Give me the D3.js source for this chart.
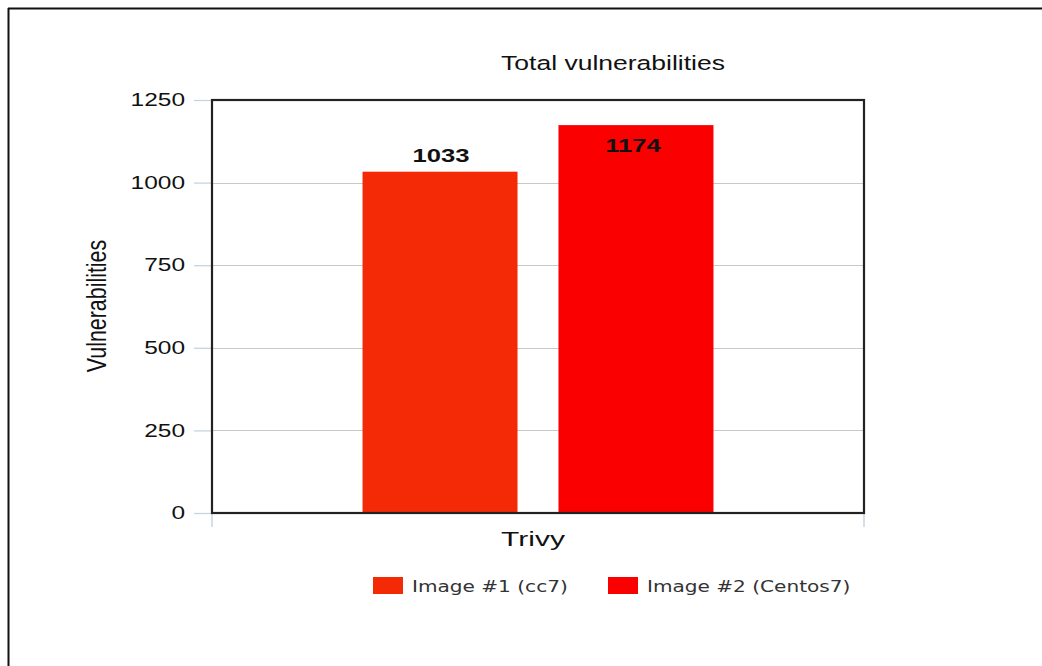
<!DOCTYPE html>
<html lang="en">
<head>
<meta charset="utf-8">
<title>Total vulnerabilities</title>
<script src="https://cdn.jsdelivr.net/npm/d3@7"></script>
<style>
  body { margin: 0; background: #fff; }
</style>
</head>
<body>
<div id="drawing"></div>
<script>
// data
var categories = ['Trivy'];
var seriesNames = ['Image #1 (cc7)', 'Image #2 (Centos7)'];
var seriesValues = [1033, 1174];
var seriesColors = ['#f42a07', '#fa0000'];
var yTicks = [0, 250, 500, 750, 1000, 1250];

var width = 1042, height = 666;
var plot = { left: 212, right: 864, top: 100, bottom: 513 };
var SANS = "'Liberation Sans', Arial, sans-serif";
var STRETCH = 1.37; // the chart text is drawn a little wide

var svg = d3.select('#drawing').append('svg')
  .attr('width', width).attr('height', height);

// outer frame (only top and left are visible)
svg.append('line').attr('x1', 8).attr('y1', 8.5).attr('x2', width).attr('y2', 8.5)
  .attr('stroke', '#111').attr('stroke-width', 2);
svg.append('line').attr('x1', 8.5).attr('y1', 8).attr('x2', 8.5).attr('y2', height)
  .attr('stroke', '#111').attr('stroke-width', 2);

function wideText(parent, x, yPos, str, size, sx, anchor) {
  return parent.append('text')
    .attr('transform', 'translate(' + x + ',' + yPos + ') scale(' + sx + ',1)')
    .attr('text-anchor', anchor || 'middle')
    .attr('font-family', SANS).attr('font-size', size)
    .attr('fill', '#111')
    .text(str);
}

var y = d3.scaleLinear().domain([0, 1250]).range([plot.bottom, plot.top]);
var x0 = d3.scaleBand().domain(categories).range([plot.left, plot.right])
  .paddingInner(0).paddingOuter(0.429);
var x1 = d3.scaleBand().domain(seriesNames).range([0, x0.bandwidth()])
  .paddingInner(0.209).paddingOuter(0);

// grid lines
svg.append('g').selectAll('line').data(yTicks.filter(function(d) { return d > 0 && d < 1250; }))
  .enter().append('line')
  .attr('x1', plot.left).attr('x2', plot.right)
  .attr('y1', function(d) { return Math.round(y(d)) + 0.5; })
  .attr('y2', function(d) { return Math.round(y(d)) + 0.5; })
  .attr('stroke', '#c8c8c8').attr('stroke-width', 1.2);

// y axis
var yAxis = d3.axisLeft(y).tickValues(yTicks).tickFormat(d3.format('d')).tickSize(18).tickPadding(9);
var gy = svg.append('g').attr('transform', 'translate(' + plot.left + ',0)').call(yAxis);
gy.select('.domain').remove();
gy.selectAll('.tick line').attr('stroke', '#c6d4e0').attr('stroke-width', 1.3);
gy.selectAll('.tick text')
  .attr('x', 0)
  .attr('transform', 'translate(-27,0) scale(1.4,1)')
  .attr('font-family', SANS).attr('font-size', 17.5).attr('fill', '#111');

// x axis ticks at the plot edges
svg.append('g').selectAll('line').data([plot.left, plot.right]).enter().append('line')
  .attr('x1', function(d) { return d; }).attr('x2', function(d) { return d; })
  .attr('y1', plot.bottom).attr('y2', plot.bottom + 14)
  .attr('stroke', '#c6d4e0').attr('stroke-width', 1.5);

// bars
var bars = svg.append('g');
categories.forEach(function(cat) {
  seriesNames.forEach(function(name, i) {
    bars.append('rect')
      .attr('x', x0(cat) + x1(name)).attr('y', y(seriesValues[i]))
      .attr('width', x1.bandwidth())
      .attr('height', y(0) - y(seriesValues[i]))
      .attr('fill', seriesColors[i]);
  });
});

// value labels
var labelOffsets = [-9.5, 27];
seriesNames.forEach(function(name, i) {
  wideText(svg, x0(categories[0]) + x1(name) + x1.bandwidth() / 2 + (i ? -3 : 1),
      y(seriesValues[i]) + labelOffsets[i], seriesValues[i], 19, 1.35)
    .attr('font-weight', 'bold');
});

// plot frame
svg.append('rect')
  .attr('x', plot.left).attr('y', plot.top)
  .attr('width', plot.right - plot.left).attr('height', plot.bottom - plot.top)
  .attr('fill', 'none').attr('stroke', '#222').attr('stroke-width', 2.2);

// category label, title
wideText(svg, 533, 546, categories[0], 20, 1.5);
wideText(svg, 613, 70, 'Total vulnerabilities', 19.5, 1.36);

// y axis title
svg.append('text')
  .attr('transform', 'translate(106,306) scale(1.3,1) rotate(-90)')
  .attr('text-anchor', 'middle')
  .attr('font-family', SANS).attr('font-size', 21.4).attr('fill', '#111')
  .text('Vulnerabilities');

// legend
var legendX = [373, 608];
var legend = svg.append('g');
seriesNames.forEach(function(name, i) {
  legend.append('rect')
    .attr('x', legendX[i]).attr('y', 577)
    .attr('width', 30).attr('height', 17)
    .attr('fill', seriesColors[i]);
  legend.append('text')
    .attr('transform', 'translate(' + (legendX[i] + 39) + ',592) scale(1.34,1)')
    .attr('font-family', "'DejaVu Sans', Verdana, sans-serif").attr('font-size', 15)
    .attr('fill', '#333')
    .text(name);
});
</script>
</body>
</html>
